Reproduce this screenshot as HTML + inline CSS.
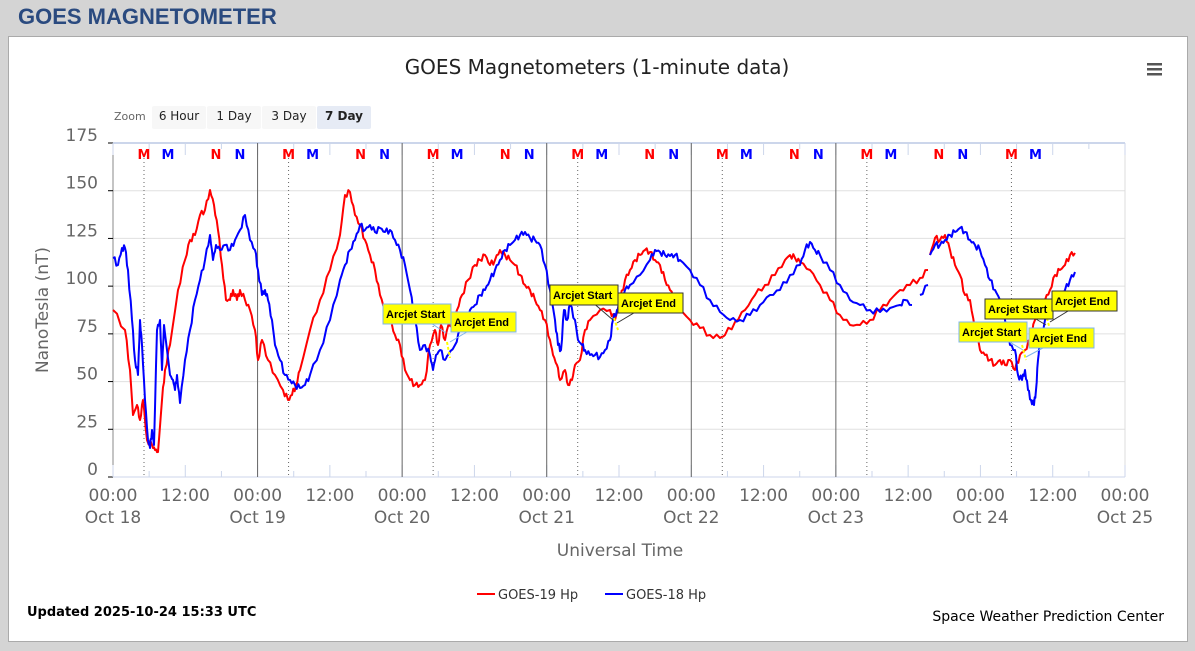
<!DOCTYPE html>
<html><head><meta charset="utf-8"><style>
body{margin:0;width:1195px;height:651px;background:#d4d4d4;font-family:"Liberation Sans",sans-serif;overflow:hidden;position:relative}
.hdr{position:absolute;left:18px;top:4px;font-size:22px;font-weight:bold;color:#2a4a7f}
.panel{position:absolute;left:8px;top:36px;width:1178px;height:604px;background:#fff;border:1px solid #aaa}
svg{position:absolute;left:0;top:0}
</style></head><body>
<div class="hdr">GOES MAGNETOMETER</div>
<div class="panel"></div>
<svg width="1195" height="651" id="s" font-family="DejaVu Sans, Liberation Sans, sans-serif"></svg>
<script>
const s=document.getElementById('s');let h='';
const X0=113,X1=1125,Y0=477,YT=143;
const y=v=>Y0-(v/175)*(Y0-YT);
h+=`<text x="597" y="74" font-size="20" text-anchor="middle" fill="#222">GOES Magnetometers (1-minute data)</text>`;
h+=`<rect x="1147" y="63" width="15" height="2.5" fill="#555"/><rect x="1147" y="68" width="15" height="2.5" fill="#555"/><rect x="1147" y="73" width="15" height="2.5" fill="#555"/>`;
h+=`<text x="114" y="120" font-size="11" fill="#666">Zoom</text>`;
[["6 Hour",152,54],["1 Day",207,54],["3 Day",262,54],["7 Day",317,54]].forEach((b,i)=>{h+=`<rect x="${b[1]}" y="106" width="${b[2]}" height="23" rx="2" fill="${i==3?'#e6ebf5':'#f7f7f7'}"/><text x="${b[1]+b[2]/2}" y="120" font-size="12" text-anchor="middle" fill="#222" ${i==3?'font-weight="bold"':''}>${b[0]}</text>`});
for(let v=25;v<=150;v+=25)h+=`<line x1="${X0}" x2="${X1}" y1="${y(v)}" y2="${y(v)}" stroke="#e0e0e0"/>`;
h+=`<line x1="${X0}" x2="${X1}" y1="${YT}" y2="${YT}" stroke="#ccd6eb" stroke-width="2"/>`;
h+=`<line x1="${X0}" x2="${X1}" y1="${Y0}" y2="${Y0}" stroke="#ccd6eb"/>`;
h+=`<line x1="${X1}" x2="${X1}" y1="${YT}" y2="${Y0}" stroke="#ddd"/>`;
h+=`<line x1="${X0}" x2="${X0}" y1="${YT}" y2="${Y0}" stroke="#888"/>`;
for(let v=0;v<=175;v+=25){h+=`<line x1="${X0-5}" x2="${X0}" y1="${y(v)}" y2="${y(v)}" stroke="#000"/><text x="98" y="${y(v)-2}" font-size="17" text-anchor="end" fill="#666">${v}</text>`}
const D=(X1-X0)/7;
for(let i=0;i<=28;i++){const x=X0+i*D/4;h+=`<line x1="${x}" x2="${x}" y1="${YT}" y2="${YT+(i%2?6:12)}" stroke="#ccd6eb"/><line x1="${x}" x2="${x}" y1="${Y0}" y2="${Y0-(i%2?6:12)}" stroke="#ccd6eb"/>`}
for(let d=0;d<7;d++){const x=X0+d*D;
 if(d>0&&d<6)h+=`<line x1="${x}" x2="${x}" y1="${YT}" y2="${Y0}" stroke="#666"/>`;
 const m=x+31;h+=`<line x1="${m}" x2="${m}" y1="${YT+15}" y2="${Y0}" stroke="#666" stroke-dasharray="1,3"/>`;
 h+=`<text x="${x+31}" y="159" font-size="13" font-weight="bold" fill="#f00" text-anchor="middle">M</text><text x="${x+55}" y="159" font-size="13" font-weight="bold" fill="#00f" text-anchor="middle">M</text>`;
 if(d<6)h+=`<text x="${x+103}" y="159" font-size="13" font-weight="bold" fill="#f00" text-anchor="middle">N</text><text x="${x+127}" y="159" font-size="13" font-weight="bold" fill="#00f" text-anchor="middle">N</text>`;
}
const dl=["Oct 18","Oct 19","Oct 20","Oct 21","Oct 22","Oct 23","Oct 24","Oct 25"];
for(let i=0;i<=14;i++){const x=X0+i*D/2;h+=`<text x="${x}" y="501" font-size="17" text-anchor="middle" fill="#666">${i%2?'12:00':'00:00'}</text>`;if(i%2==0)h+=`<text x="${x}" y="523" font-size="17" text-anchor="middle" fill="#666">${dl[i/2]}</text>`}
h+=`<text x="620" y="556" font-size="17" text-anchor="middle" fill="#666">Universal Time</text>`;
h+=`<text transform="translate(48,310) rotate(-90)" font-size="17" text-anchor="middle" fill="#666">NanoTesla (nT)</text>`;
const R=[[113,310],[125,330],[130,370],[133,415],[137,405],[140,420],[143,400],[147,440],[152,445],[155,450],[158,452],[162,400],[165,370],[170,345],[178,290],[185,260],[190,240],[195,235],[200,215],[205,210],[210,190],[214,205],[218,230],[222,265],[226,300],[230,300],[233,290],[237,300],[240,290],[245,300],[250,310],[255,330],[258,360],[262,340],[268,360],[275,375],[283,390],[288,400],[292,395],[296,385],[300,370],[310,330],[320,300],[330,270],[340,235],[345,195],[350,192],[355,215],[360,225],[365,240],[370,255],[375,270],[380,295],[385,310],[390,320],[395,335],[400,345],[405,370],[410,380],[415,385],[420,385],[425,380],[430,345],[435,330],[438,345],[441,325],[445,340],[447,330],[452,320],[457,310],[462,295],[468,280],[475,265],[480,260],[485,255],[490,265],[495,260],[500,250],[505,255],[510,260],[515,265],[520,275],[525,285],[530,290],[535,300],[540,310],[545,320],[550,340],[553,355],[557,365],[560,380],[565,370],[568,385],[572,380],[575,365],[580,360],[585,330],[590,320],[600,310],[610,310],[615,320],[620,300],[625,280],[630,270],[635,260],[640,255],[645,250],[650,252],[655,260],[660,265],[665,280],[670,290],[675,300],[680,310],[690,320],[700,328],[710,335],[720,338],[725,335],[735,322],[745,310],[755,295],[765,285],[775,275],[785,260],[790,255],[795,258],[800,262],[810,270],[820,285],[830,300],[840,315],[850,325],[860,325],[870,320],[880,310],[890,300],[900,290],[910,285],[920,278],[928,270],null,[930,255],[935,238],[940,240],[945,235],[950,250],[955,265],[960,275],[965,295],[970,300],[975,330],[980,350],[985,355],[990,360],[995,365],[1000,360],[1005,365],[1010,360],[1015,370],[1020,355],[1025,350],[1030,340],[1035,320],[1040,305],[1045,300],[1050,290],[1055,275],[1060,270],[1065,265],[1070,255],[1075,253]];
const B=[[113,258],[118,265],[122,248],[125,248],[128,270],[132,320],[135,360],[138,375],[140,320],[142,345],[145,400],[148,440],[150,448],[152,430],[154,445],[157,330],[160,320],[162,370],[164,325],[167,350],[170,375],[173,380],[175,390],[177,375],[180,403],[185,360],[190,330],[195,300],[200,280],[205,260],[210,235],[213,260],[216,245],[220,250],[225,245],[230,250],[235,240],[240,230],[245,215],[250,240],[255,250],[258,270],[262,295],[265,290],[268,300],[272,320],[275,345],[280,360],[285,375],[290,380],[295,385],[300,388],[305,385],[310,375],[320,350],[330,320],[340,280],[345,265],[350,250],[355,240],[360,225],[365,230],[370,225],[375,232],[380,228],[385,232],[390,230],[395,240],[400,250],[405,265],[410,290],[415,320],[420,350],[425,345],[430,355],[433,370],[436,355],[440,350],[445,360],[448,355],[455,345],[460,330],[465,320],[470,310],[475,305],[480,295],[485,290],[490,280],[495,270],[500,260],[505,250],[510,245],[515,240],[520,235],[525,232],[530,238],[535,240],[540,245],[545,265],[550,290],[555,320],[558,345],[561,350],[564,310],[567,320],[570,305],[575,320],[578,340],[582,345],[585,350],[590,355],[595,355],[600,357],[605,350],[610,340],[613,320],[617,310],[620,300],[625,290],[630,285],[640,275],[650,260],[655,250],[660,252],[665,255],[670,256],[675,255],[680,260],[690,270],[700,285],[710,300],[720,312],[730,320],[740,320],[750,315],[760,305],[770,295],[780,290],[790,275],[800,265],[805,250],[810,242],[815,250],[820,255],[830,270],[840,285],[850,300],[860,305],[870,310],[880,312],[890,308],[900,305],[905,300],[912,305],null,[920,295],[928,285],null,[930,255],[935,245],[940,245],[945,240],[950,235],[955,232],[960,228],[965,232],[970,240],[975,245],[980,250],[985,265],[990,280],[995,290],[1000,300],[1005,320],[1010,345],[1015,350],[1018,375],[1022,380],[1025,370],[1028,390],[1031,400],[1034,405],[1036,390],[1038,360],[1040,340],[1045,320],[1050,310],[1055,305],[1060,300],[1065,290],[1070,280],[1075,272]];
function line(P,c){let segs=[[]];P.forEach(p=>{if(!p)segs.push([]);else segs[segs.length-1].push(p)});segs.forEach(sg=>{let pts=[];for(let i=0;i<sg.length;i++){pts.push(sg[i]);if(i<sg.length-1){const a=sg[i],b=sg[i+1];for(let k=1;k<3;k++){const t=k/3;pts.push([a[0]+(b[0]-a[0])*t,a[1]+(b[1]-a[1])*t+(Math.sin(a[0]*7.3+k*3)*3)])}}}h+=`<polyline points="${pts.map(p=>p[0].toFixed(1)+','+p[1].toFixed(1)).join(' ')}" fill="none" stroke="${c}" stroke-width="2" stroke-linejoin="round"/>`})}
line(R,'#f00');line(B,'#00f');
[[447,342,450,358],[614,318,618,330],[1022,345,1026,360],[1047,318,1050,330]].forEach(a=>h+=`<line x1="${a[0]}" y1="${a[1]}" x2="${a[2]}" y2="${a[3]}" stroke="#ff0" stroke-width="2" stroke-dasharray="3,2"/>`);
function lab(x,yy,w,t,px,py,bc){h+=`<line x1="${x+w/2}" y1="${yy+10}" x2="${px}" y2="${py}" stroke="${bc}"/><rect x="${x}" y="${yy}" width="${w}" height="20" fill="#ff0" stroke="${bc}"/><text x="${x+3}" y="${yy+14}" font-size="11" font-weight="bold" fill="#000" font-family="Liberation Sans, sans-serif">${t}</text>`}
lab(383,304,68,'Arcjet Start',446,333,'#7cb5ec');lab(451,312,65,'Arcjet End',450,342,'#7cb5ec');
lab(550,285,68,'Arcjet Start',613,320,'#333');lab(618,293,65,'Arcjet End',617,323,'#333');
lab(959,322,68,'Arcjet Start',1023,350,'#7cb5ec');lab(1029,328,65,'Arcjet End',1026,357,'#7cb5ec');
lab(985,299,68,'Arcjet Start',1046,325,'#333');lab(1052,291,65,'Arcjet End',1050,322,'#333');
h+=`<line x1="477" x2="495" y1="594" y2="594" stroke="#f00" stroke-width="2"/><text x="498" y="599" font-size="13" fill="#333">GOES-19 Hp</text>`;
h+=`<line x1="605" x2="623" y1="594" y2="594" stroke="#00f" stroke-width="2"/><text x="626" y="599" font-size="13" fill="#333">GOES-18 Hp</text>`;
h+=`<text x="27" y="616" font-size="13" font-weight="bold" fill="#000">Updated 2025-10-24 15:33 UTC</text>`;
h+=`<text x="1164" y="621" font-size="14" text-anchor="end" fill="#000">Space Weather Prediction Center</text>`;
s.innerHTML=h;
</script>
</body></html>
